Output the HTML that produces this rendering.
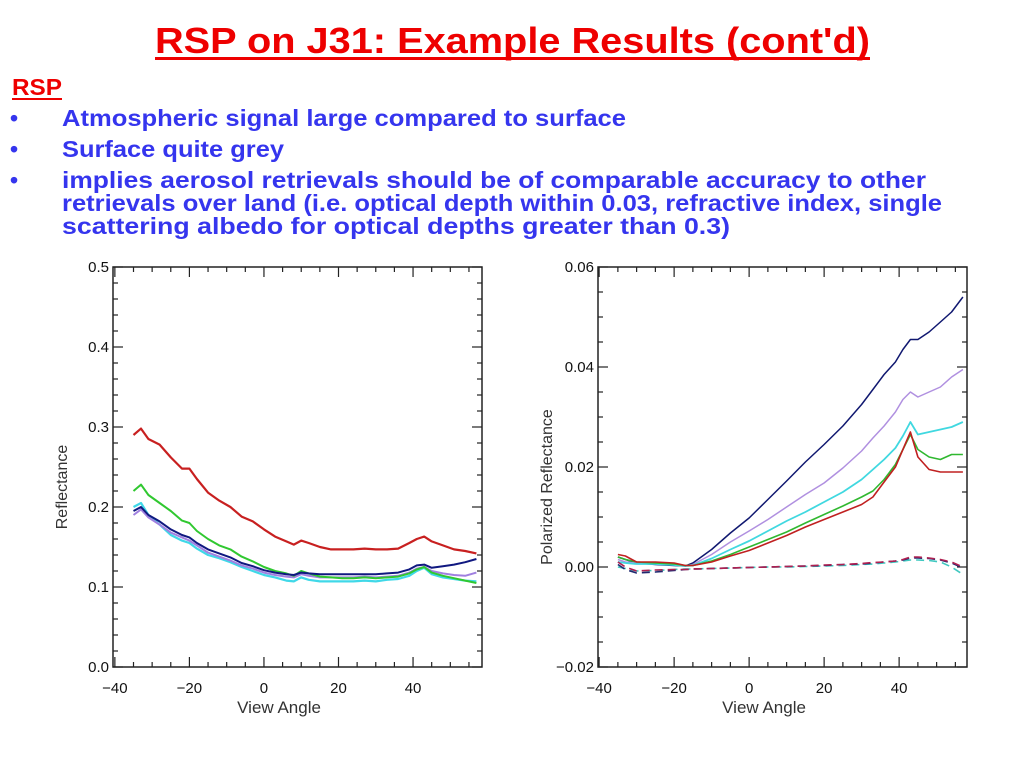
<!DOCTYPE html>
<html><head><meta charset="utf-8"><style>
html,body{margin:0;padding:0;background:#fff;}
svg{display:block;font-family:"Liberation Sans",sans-serif;}
</style></head><body>
<svg id="s" width="1024" height="768" xmlns="http://www.w3.org/2000/svg">
<text x="155" y="53" font-size="36" font-weight="bold" fill="#ee0000" textLength="715" lengthAdjust="spacingAndGlyphs">RSP on J31: Example Results (cont'd)</text>
<rect x="155" y="57" width="715" height="3" fill="#ee0000"/>
<text x="12" y="95" font-size="23" font-weight="bold" fill="#ee0000" textLength="50" lengthAdjust="spacingAndGlyphs">RSP</text>
<rect x="12" y="98" width="50" height="2" fill="#ee0000"/>
<g font-size="23" font-weight="bold" fill="#3535ee">
<text x="10" y="126">•</text>
<text x="62" y="126" textLength="564" lengthAdjust="spacingAndGlyphs">Atmospheric signal large compared to surface</text>
<text x="10" y="157">•</text>
<text x="62" y="157" textLength="222" lengthAdjust="spacingAndGlyphs">Surface quite grey</text>
<text x="10" y="188">•</text>
<text x="62" y="188" textLength="864" lengthAdjust="spacingAndGlyphs">implies aerosol retrievals should be of comparable accuracy to other</text>
<text x="62" y="211" textLength="880" lengthAdjust="spacingAndGlyphs">retrievals over land (i.e. optical depth within 0.03, refractive index, single</text>
<text x="62" y="234" textLength="668" lengthAdjust="spacingAndGlyphs">scattering albedo for optical depths greater than 0.3)</text>
</g>
<g id="left"></g>
<g id="right"></g>
</svg>
<script>
const NS="http://www.w3.org/2000/svg";
// Left chart data
const leftAngles=[-35,-33,-31,-28,-25,-22,-20,-18,-15,-12,-9,-6,-3,0,3,6,8,10,12,15,18,21,24,27,30,33,36,39,41,43,45,48,51,54,57];
const leftRed=[.29,.298,.285,.278,.262,.248,.248,.235,.218,.208,.2,.188,.182,.172,.163,.157,.153,.158,.155,.15,.147,.147,.147,.148,.147,.147,.148,.155,.16,.163,.157,.152,.147,.145,.142];
const leftGreen=[.22,.228,.215,.205,.195,.183,.18,.17,.16,.152,.147,.138,.132,.125,.12,.117,.114,.12,.117,.113,.112,.111,.111,.112,.111,.112,.113,.117,.122,.125,.118,.114,.111,.108,.105];
const leftNavy=[.195,.2,.19,.182,.172,.165,.162,.155,.147,.142,.137,.13,.126,.121,.118,.116,.115,.118,.117,.116,.116,.116,.116,.116,.116,.117,.118,.122,.127,.128,.124,.126,.128,.131,.135];
const leftViolet=[.19,.197,.187,.178,.168,.162,.158,.152,.143,.138,.133,.127,.123,.118,.115,.113,.112,.116,.114,.112,.112,.112,.112,.113,.112,.113,.114,.118,.123,.125,.12,.117,.115,.114,.118];
const leftCyan=[.2,.205,.19,.178,.165,.158,.155,.148,.14,.136,.131,.125,.12,.115,.112,.108,.107,.112,.109,.107,.107,.107,.107,.108,.107,.109,.11,.114,.12,.124,.116,.112,.11,.108,.107];
const leftYTicks=["0.0","0.1","0.2","0.3","0.4","0.5"];
const xTickLabels=["\u221240","\u221220","0","20","40"];
// Right chart data
const rightAngles=[-35,-33,-30,-25,-20,-17,-15,-10,-5,0,5,10,15,20,25,30,33,36,39,41,43,45,48,51,54,57];
const rightNavy=[.002,.0015,.0008,.0005,.0003,.0002,.0008,.0035,.0068,.0098,.0135,.0172,.021,.0245,.0282,.0325,.0355,.0385,.041,.0435,.0455,.0455,.047,.049,.051,.054];
const rightViolet=[.0015,.001,.0008,.0008,.0005,.0002,.0005,.0025,.005,.0072,.0095,.012,.0145,.0168,.0198,.0232,.0258,.0282,.031,.0335,.035,.034,.035,.036,.038,.0395];
const rightCyan=[.001,.0008,.0006,.0006,.0004,.0002,.0003,.0017,.0035,.0052,.0072,.0092,.011,.013,.015,.0175,.0195,.0215,.0238,.0262,.029,.0265,.027,.0275,.028,.029];
const rightGreen=[.002,.0015,.001,.0008,.0006,.0003,.0003,.0012,.0025,.004,.0055,.007,.0088,.0105,.0122,.014,.0152,.0175,.0205,.0235,.0265,.0235,.022,.0215,.0225,.0225];
const rightRed=[.0025,.0022,.001,.001,.0008,.0003,.0003,.001,.0022,.0033,.0048,.0063,.008,.0095,.011,.0125,.014,.017,.02,.0235,.027,.022,.0195,.019,.019,.019];
const rightDashRed=[.001,0,-.0008,-.0006,-.0005,-.0005,-.0004,-.0003,-.0002,-.0001,0,.0001,.0002,.0004,.0005,.0007,.0009,.001,.0012,.0015,.002,.002,.0018,.0015,.001,0];
const rightDashNavy=[.0005,-.0005,-.0012,-.001,-.0007,-.0005,-.0004,-.0003,-.0002,-.0001,0,.0001,.0002,.0003,.0005,.0006,.0008,.001,.0012,.0014,.0018,.0018,.0017,.0014,.0008,-.0002];
const rightDashCyan=[0,-.0003,-.0008,-.0007,-.0005,-.0004,-.0004,-.0003,-.0002,-.0001,0,0,.0001,.0002,.0003,.0005,.0006,.0008,.001,.0012,.0014,.0014,.0013,.001,0,-.0015];
const rightYTicks=["\u22120.02","0.00","0.02","0.04","0.06"];

function el(tag,attrs,parent){const e=document.createElementNS(NS,tag);for(const k in attrs)e.setAttribute(k,attrs[k]);parent.appendChild(e);return e;}

function chart(g,box,xDom,yDom,yTicks,yTickVals,yMinorStep,ylabel,series){
  const sx=v=>box.x0+(v-xDom[0])/(xDom[1]-xDom[0])*(box.x1-box.x0);
  const sy=v=>box.y1-(v-yDom[0])/(yDom[1]-yDom[0])*(box.y1-box.y0);
  const f=el('rect',{x:box.x0,y:box.y0,width:box.x1-box.x0,height:box.y1-box.y0,fill:'#fff',stroke:'#222','stroke-width':1.5},g);
  
  
  for(let v=-40;v<=58;v+=5){
    const big=v%20===0;
    [[box.y1,box.y1-(big?10:5)],[box.y0,box.y0+(big?10:5)]].forEach(p=>{
      const t=el('line',{x1:sx(v),x2:sx(v),y1:p[0],y2:p[1],stroke:'#222','stroke-width':1.2},g);
      
      
    });
  }
  for(let v=yDom[0];v<=yDom[1]+1e-9;v+=yMinorStep){
    const isMaj=yTickVals.some(m=>Math.abs(m-v)<1e-9);
    [[box.x0,box.x0+(isMaj?10:5)],[box.x1,box.x1-(isMaj?10:5)]].forEach(p=>{
      const t=el('line',{x1:p[0],x2:p[1],y1:sy(v),y2:sy(v),stroke:'#222','stroke-width':1.2},g);
      
      
    });
  }
  xTickLabels.forEach((l,i)=>{
    const t=el('text',{x:sx(-40+20*i),y:box.y1+26,'font-size':15,'text-anchor':'middle',fill:'#111'},g);
    t.textContent=l;
    
    
  });
  yTicks.forEach((l,i)=>{
    const t=el('text',{x:box.x0-4,y:sy(yTickVals[i])+5,'font-size':15,'text-anchor':'end',fill:'#111'},g);
    t.textContent=l;
    
    
  });
  const xt=el('text',{x:(box.x0+box.x1)/2-(box.x1-box.x0)*0.05,y:box.y1+46,'font-size':17,'text-anchor':'middle',fill:'#333'},g);
  xt.textContent='View Angle';
  
  
  const yt=el('text',{x:0,y:0,'font-size':16,'text-anchor':'middle',fill:'#333',transform:`translate(${box.x0-46},${(box.y0+box.y1)/2+20}) rotate(-90)`},g);
  yt.textContent=ylabel;
  
  
  series.forEach(s=>{
    const d=s.xs.map((x,i)=>(i?'L':'M')+sx(x).toFixed(1)+','+sy(s.ys[i]).toFixed(1)).join(' ');
    const p=el('path',{d:d,fill:'none',stroke:s.c,'stroke-width':s.w||1.6,'stroke-dasharray':s.dash||'none','stroke-linejoin':'round'},g);
    
    
  });
}

chart(document.getElementById('left'),{x0:113,x1:482,y0:267,y1:667},[-40.5,58.5],[0,0.5],leftYTicks,[0,.1,.2,.3,.4,.5],0.02,'Reflectance',[
  {n:'series-cyan',c:'#40d8e8',xs:leftAngles,ys:leftCyan,w:2.2},
  {n:'series-violet',c:'#a080e0',xs:leftAngles,ys:leftViolet,w:2},
  {n:'series-green',c:'#30c830',xs:leftAngles,ys:leftGreen,w:2},
  {n:'series-navy',c:'#101880',xs:leftAngles,ys:leftNavy,w:2},
  {n:'series-red',c:'#c82020',xs:leftAngles,ys:leftRed,w:2.2}
]);
chart(document.getElementById('right'),{x0:598,x1:967,y0:267,y1:667},[-40.3,58.1],[-0.02,0.06],rightYTicks,[-.02,0,.02,.04,.06],0.005,'Polarized Reflectance',[
  {n:'series-navy',c:'#101870',xs:rightAngles,ys:rightNavy,w:1.5},
  {n:'series-violet',c:'#b090e0',xs:rightAngles,ys:rightViolet,w:1.5},
  {n:'series-cyan',c:'#40d8e0',xs:rightAngles,ys:rightCyan,w:1.8},
  {n:'series-green',c:'#30b830',xs:rightAngles,ys:rightGreen,w:1.6},
  {n:'series-red',c:'#c02020',xs:rightAngles,ys:rightRed,w:1.6},
  {n:'series-cyan-dashed',c:'#40c8c0',xs:rightAngles,ys:rightDashCyan,w:1.6,dash:'8,5'},
  {n:'series-navy-dashed',c:'#202870',xs:rightAngles,ys:rightDashNavy,w:1.6,dash:'8,5'},
  {n:'series-red-dashed',c:'#b02050',xs:rightAngles,ys:rightDashRed,w:1.6,dash:'8,5'}
]);
</script>
</body></html>
